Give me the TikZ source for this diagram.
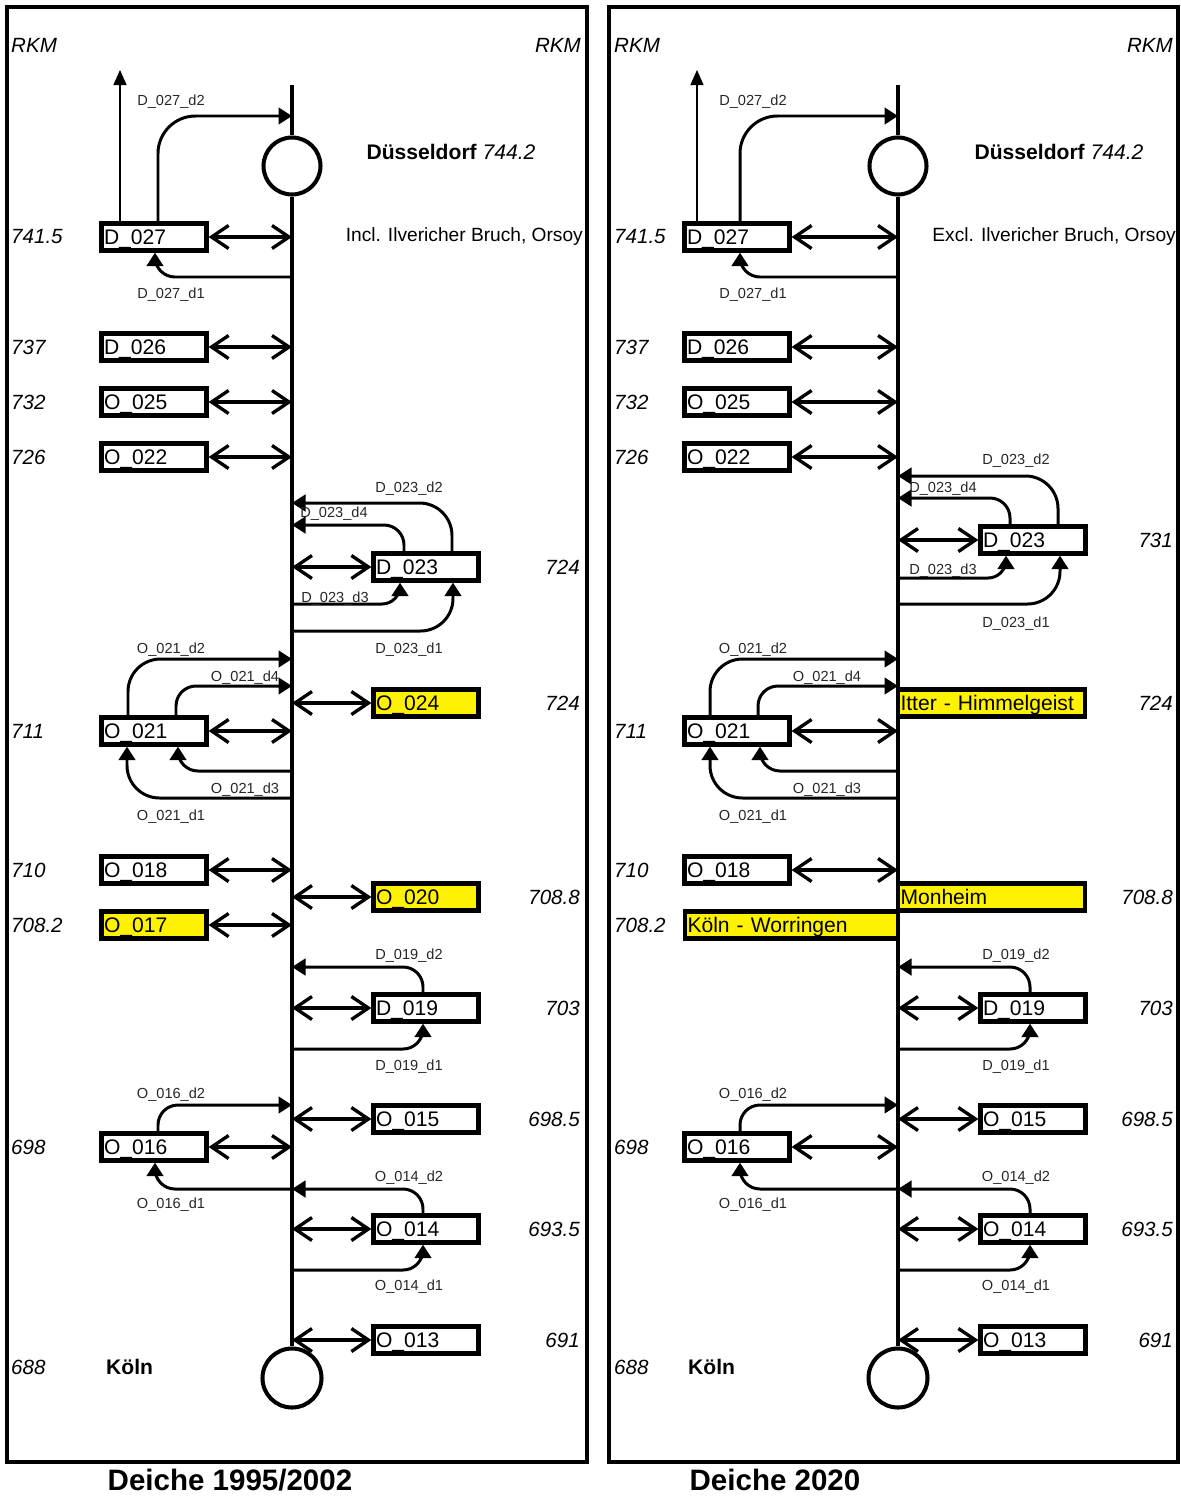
\documentclass[tikz,border=0pt]{standalone}
\usepackage{fontspec}
\setmainfont{Liberation Sans}
\usetikzlibrary{calc, positioning}
\usetikzlibrary{arrows.meta}

\tikzset{
  frame/.style={line width=2.3pt},
  river/.style={line width=2.4pt},
  station/.style={circle, draw, line width=2.3pt, minimum size=11.4mm, inner sep=0pt},
  box/.style={draw, line width=2.4pt, minimum height=5.4mm, inner xsep=0.5mm, inner ysep=0pt,
    text width=20mm, text height=8.6pt, text depth=0pt, align=left, font=\fontsize{12}{14}\selectfont},
  ybox/.style={box, fill=yellow},
  dbl/.style={{Straight Barb[length=3.4mm,width=4.6mm]}-{Straight Barb[length=3.4mm,width=4.6mm]}, line width=1.9pt},
  curve/.style={-{Triangle[length=2.7mm,width=3.3mm]}, line width=1.7pt, rounded corners=4mm},
  uparrow/.style={-{Triangle[length=3mm,width=2.6mm]}, line width=0.8pt},
  tag/.style={font=\fontsize{8.3}{10}\selectfont, text=black!85, text depth=0pt},
  km/.style={font=\fontsize{11.7}{14}\selectfont\itshape},
  town/.style={font=\fontsize{12}{14}\selectfont},
  title/.style={font=\fontsize{16.8}{20}\selectfont\bfseries},
}

\begin{document}
\begin{tikzpicture}[x=0.2mm, y=0.2mm]
\useasboundingbox (0,0) rectangle (1180,-1497);
\draw[frame] (7,-7) rectangle (587,-1462);
\draw[frame] (609,-7) rectangle (1178,-1462);

\coordinate (lTop) at (292,-85);
\coordinate (lUp) at (120,-70);
\node[station] (lDus) at (292,-166) {};
\node[station, minimum size=11.8mm] (lKoln) at (292,-1378) {};
\draw[river] (lTop) -- (lDus.north) (lDus.south) -- (lKoln.north);

\node[box] (lD027) at (154,-237) {D\_027};
\node[box] (lD026) at (154,-347) {D\_026};
\node[box] (lO025) at (154,-402) {O\_025};
\node[box] (lO022) at (154,-457) {O\_022};
\node[box] (lD023) at (426,-567) {D\_023};
\node[ybox] (lO024) at (426,-703) {O\_024};
\node[box] (lO021) at (154,-731) {O\_021};
\node[box] (lO018) at (154,-870) {O\_018};
\node[ybox] (lO020) at (426,-897) {O\_020};
\node[ybox] (lO017) at (154,-925) {O\_017};
\node[box] (lD019) at (426,-1008) {D\_019};
\node[box] (lO015) at (426,-1119) {O\_015};
\node[box] (lO016) at (154,-1147) {O\_016};
\node[box] (lO014) at (426,-1229) {O\_014};
\node[box] (lO013) at (426,-1340) {O\_013};

\draw[dbl] (lD027.east) -- (lD027 -| lDus);
\draw[dbl] (lD026.east) -- (lD026 -| lDus);
\draw[dbl] (lO025.east) -- (lO025 -| lDus);
\draw[dbl] (lO022.east) -- (lO022 -| lDus);
\draw[dbl] (lO021.east) -- (lO021 -| lDus);
\draw[dbl] (lO018.east) -- (lO018 -| lDus);
\draw[dbl] (lO017.east) -- (lO017 -| lDus);
\draw[dbl] (lO016.east) -- (lO016 -| lDus);
\draw[dbl] (lD023 -| lDus) -- (lD023.west);
\draw[dbl] (lO024 -| lDus) -- (lO024.west);
\draw[dbl] (lO020 -| lDus) -- (lO020.west);
\draw[dbl] (lD019 -| lDus) -- (lD019.west);
\draw[dbl] (lO015 -| lDus) -- (lO015.west);
\draw[dbl] (lO014 -| lDus) -- (lO014.west);
\draw[dbl] (lO013 -| lDus) -- (lO013.west);

\draw[uparrow] (lD027.north -| lUp) -- (lUp);
\draw[curve, rounded corners=7.5mm] (lD027.north -| 158,0) |- (lDus |- 0,-116);
\draw[curve] (lDus |- 0,-277) -| (lD027.south -| 155,0);
\draw[curve, rounded corners=6.5mm] (lD023.north -| 452,0) |- (lDus |- 0,-503);
\draw[curve] (lD023.north -| 404,0) |- (lDus |- 0,-525);
\draw[curve, rounded corners=3.6mm] (lDus |- 0,-604) -| (lD023.south -| 400,0);
\draw[curve, rounded corners=6.5mm] (lDus |- 0,-631) -| (lD023.south -| 453,0);
\draw[curve, rounded corners=6.5mm] (lO021.north -| 128,0) |- (lDus |- 0,-659);
\draw[curve] (lO021.north -| 176,0) |- (lDus |- 0,-686);
\draw[curve] (lDus |- 0,-771) -| (lO021.south -| 178,0);
\draw[curve, rounded corners=6.5mm] (lDus |- 0,-798) -| (lO021.south -| 127,0);
\draw[curve] (lD019.north -| 423,0) |- (lDus |- 0,-967);
\draw[curve] (lDus |- 0,-1049) -| (lD019.south -| 423,0);
\draw[curve] (lO016.north -| 158,0) |- (lDus |- 0,-1105);
\draw[curve] (lDus |- 0,-1189) -| (lO016.south -| 155,0);
\draw[curve] (lO014.north -| 423,0) |- (lDus |- 0,-1189);
\draw[curve] (lDus |- 0,-1270) -| (lO014.south -| 423,0);

\node[tag] (lt1) at (171,-100) {D\_027\_d2};
\node[tag] (lt2) at (171,-293) {D\_027\_d1};
\node[tag] (lt3) at (409,-487) {D\_023\_d2};
\node[tag] (lt4) at (334,-512) {D\_023\_d4};
\node[tag] (lt5) at (335,-597) {D\_023\_d3};
\node[tag] (lt6) at (409,-648) {D\_023\_d1};
\node[tag] (lt7) at (171,-648) {O\_021\_d2};
\node[tag] (lt8) at (245,-676) {O\_021\_d4};
\node[tag] (lt9) at (245,-788) {O\_021\_d3};
\node[tag] (lt10) at (171,-815) {O\_021\_d1};
\node[tag] (lt11) at (409,-954) {D\_019\_d2};
\node[tag] (lt12) at (409,-1065) {D\_019\_d1};
\node[tag] (lt13) at (171,-1093) {O\_016\_d2};
\node[tag] (lt14) at (171,-1203) {O\_016\_d1};
\node[tag] (lt15) at (409,-1176) {O\_014\_d2};
\node[tag] (lt16) at (409,-1285) {O\_014\_d1};

\node[km, anchor=west] (lRkmA) at (5,-45) {RKM};
\node[km, anchor=east] (lRkmB) at (587,-45) {RKM};
\node[km, anchor=west] at (5,-237) {741.5};
\node[km, anchor=west] at (5,-347) {737};
\node[km, anchor=west] at (5,-402) {732};
\node[km, anchor=west] at (5,-457) {726};
\node[km, anchor=west] at (5,-731) {711};
\node[km, anchor=west] at (5,-870) {710};
\node[km, anchor=west] at (5,-925) {708.2};
\node[km, anchor=west] at (5,-1147) {698};
\node[km, anchor=west] at (5,-1367) {688};
\node[km, anchor=east] at (586,-567) {724};
\node[km, anchor=east] at (586,-703) {724};
\node[km, anchor=east] at (586,-897) {708.8};
\node[km, anchor=east] at (586,-1008) {703};
\node[km, anchor=east] at (586,-1119) {698.5};
\node[km, anchor=east] at (586,-1229) {693.5};
\node[km, anchor=east] at (586,-1340) {691};
\node[town] (lDusName) at (451,-152) {\textbf{Düsseldorf} \textit{744.2}};
\node[town, font=\fontsize{10.9}{13}\selectfont, anchor=east] (lIncl) at (589,-237) {Incl. Ilvericher Bruch, Orsoy};
\node[town, anchor=west, font=\fontsize{12}{14}\selectfont\bfseries] (lKolnName) at (100,-1367) {Köln};
\node[title] (lTitle) at (230,-1480) {Deiche 1995/2002};

\coordinate (rTop) at (898,-85);
\coordinate (rUp) at (697,-70);
\node[station] (rDus) at (898,-166) {};
\node[station, minimum size=11.8mm] (rKoln) at (898,-1378) {};
\draw[river] (rTop) -- (rDus.north) (rDus.south) -- (rKoln.north);

\node[box] (rD027) at (737,-237) {D\_027};
\node[box] (rD026) at (737,-347) {D\_026};
\node[box] (rO025) at (737,-402) {O\_025};
\node[box] (rO022) at (737,-457) {O\_022};
\node[box] (rD023) at (1033,-540) {D\_023};
\node[ybox, text width=36.4mm] (rItter) at (991.5,-703) {Itter - Himmelgeist};
\node[box] (rO021) at (737,-731) {O\_021};
\node[box] (rO018) at (737,-870) {O\_018};
\node[ybox, text width=36.4mm] (rMonheim) at (991.5,-897) {Monheim};
\node[ybox, text width=41.6mm] (rWorringen) at (791.5,-925) {Köln - Worringen};
\node[box] (rD019) at (1033,-1008) {D\_019};
\node[box] (rO015) at (1033,-1119) {O\_015};
\node[box] (rO016) at (737,-1147) {O\_016};
\node[box] (rO014) at (1033,-1229) {O\_014};
\node[box] (rO013) at (1033,-1340) {O\_013};

\draw[dbl] (rD027.east) -- (rD027 -| rDus);
\draw[dbl] (rD026.east) -- (rD026 -| rDus);
\draw[dbl] (rO025.east) -- (rO025 -| rDus);
\draw[dbl] (rO022.east) -- (rO022 -| rDus);
\draw[dbl] (rO021.east) -- (rO021 -| rDus);
\draw[dbl] (rO018.east) -- (rO018 -| rDus);
\draw[dbl] (rO016.east) -- (rO016 -| rDus);
\draw[dbl] (rD023 -| rDus) -- (rD023.west);
\draw[dbl] (rD019 -| rDus) -- (rD019.west);
\draw[dbl] (rO015 -| rDus) -- (rO015.west);
\draw[dbl] (rO014 -| rDus) -- (rO014.west);
\draw[dbl] (rO013 -| rDus) -- (rO013.west);

\draw[uparrow] (rD027.north -| rUp) -- (rUp);
\draw[curve, rounded corners=7.5mm] (rD027.north -| 740,0) |- (rDus |- 0,-116);
\draw[curve] (rDus |- 0,-277) -| (rD027.south -| 740,0);
\draw[curve, rounded corners=6.5mm] (rD023.north -| 1058,0) |- (rDus |- 0,-476);
\draw[curve] (rD023.north -| 1010,0) |- (rDus |- 0,-498);
\draw[curve, rounded corners=3.6mm] (rDus |- 0,-578) -| (rD023.south -| 1006,0);
\draw[curve, rounded corners=6.5mm] (rDus |- 0,-604) -| (rD023.south -| 1060,0);
\draw[curve, rounded corners=6.5mm] (rO021.north -| 710,0) |- (rDus |- 0,-659);
\draw[curve] (rO021.north -| 758,0) |- (rDus |- 0,-686);
\draw[curve] (rDus |- 0,-771) -| (rO021.south -| 760,0);
\draw[curve, rounded corners=6.5mm] (rDus |- 0,-798) -| (rO021.south -| 710,0);
\draw[curve] (rD019.north -| 1030,0) |- (rDus |- 0,-967);
\draw[curve] (rDus |- 0,-1049) -| (rD019.south -| 1030,0);
\draw[curve] (rO016.north -| 740,0) |- (rDus |- 0,-1105);
\draw[curve] (rDus |- 0,-1189) -| (rO016.south -| 740,0);
\draw[curve] (rO014.north -| 1030,0) |- (rDus |- 0,-1189);
\draw[curve] (rDus |- 0,-1270) -| (rO014.south -| 1030,0);

\node[tag] (rt1) at (753,-100) {D\_027\_d2};
\node[tag] (rt2) at (753,-293) {D\_027\_d1};
\node[tag] (rt3) at (1016,-459) {D\_023\_d2};
\node[tag] (rt4) at (943,-487) {D\_023\_d4};
\node[tag] (rt5) at (943,-569) {D\_023\_d3};
\node[tag] (rt6) at (1016,-622) {D\_023\_d1};
\node[tag] (rt7) at (753,-648) {O\_021\_d2};
\node[tag] (rt8) at (827,-676) {O\_021\_d4};
\node[tag] (rt9) at (827,-788) {O\_021\_d3};
\node[tag] (rt10) at (753,-815) {O\_021\_d1};
\node[tag] (rt11) at (1016,-954) {D\_019\_d2};
\node[tag] (rt12) at (1016,-1065) {D\_019\_d1};
\node[tag] (rt13) at (753,-1093) {O\_016\_d2};
\node[tag] (rt14) at (753,-1203) {O\_016\_d1};
\node[tag] (rt15) at (1016,-1176) {O\_014\_d2};
\node[tag] (rt16) at (1016,-1285) {O\_014\_d1};

\node[km, anchor=west] (rRkmA) at (608,-45) {RKM};
\node[km, anchor=east] (rRkmB) at (1179,-45) {RKM};
\node[km, anchor=west] at (608,-237) {741.5};
\node[km, anchor=west] at (608,-347) {737};
\node[km, anchor=west] at (608,-402) {732};
\node[km, anchor=west] at (608,-457) {726};
\node[km, anchor=west] at (608,-731) {711};
\node[km, anchor=west] at (608,-870) {710};
\node[km, anchor=west] at (608,-925) {708.2};
\node[km, anchor=west] at (608,-1147) {698};
\node[km, anchor=west] at (608,-1367) {688};
\node[km, anchor=east] at (1179,-540) {731};
\node[km, anchor=east] at (1179,-703) {724};
\node[km, anchor=east] at (1179,-897) {708.8};
\node[km, anchor=east] at (1179,-1008) {703};
\node[km, anchor=east] at (1179,-1119) {698.5};
\node[km, anchor=east] at (1179,-1229) {693.5};
\node[km, anchor=east] at (1179,-1340) {691};
\node[town] (rDusName) at (1059,-152) {\textbf{Düsseldorf} \textit{744.2}};
\node[town, font=\fontsize{10.9}{13}\selectfont, anchor=east] (rExcl) at (1182,-237) {Excl. Ilvericher Bruch, Orsoy};
\node[town, anchor=west, font=\fontsize{12}{14}\selectfont\bfseries] (rKolnName) at (682,-1367) {Köln};
\node[title] (rTitle) at (775,-1480) {Deiche 2020};
\end{tikzpicture}
\end{document}
